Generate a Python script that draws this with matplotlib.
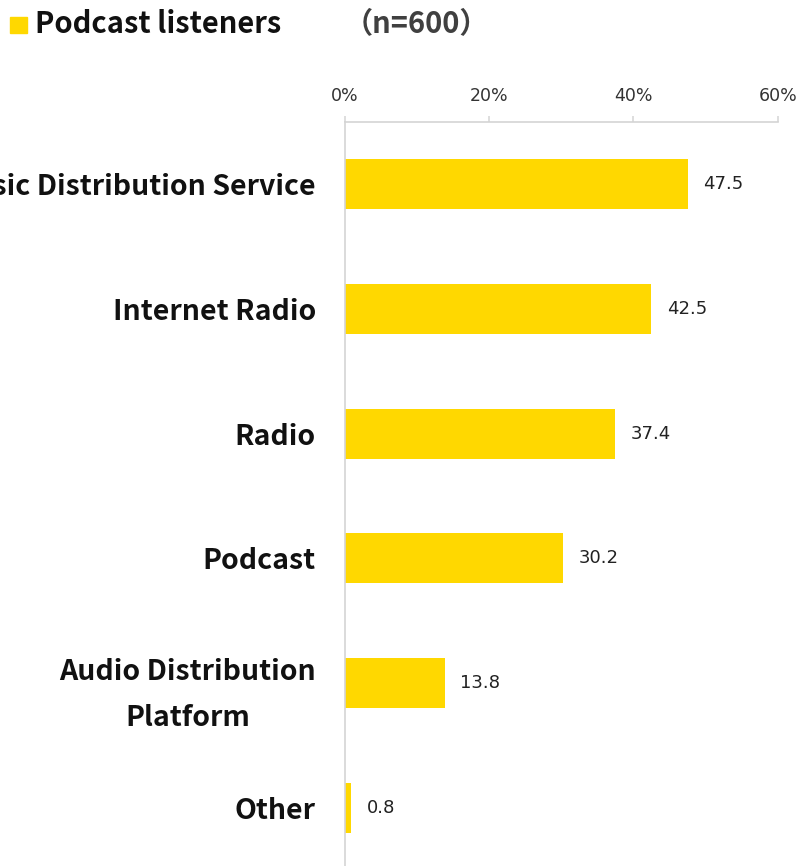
import matplotlib
matplotlib.use("Agg")
import matplotlib.pyplot as plt
from matplotlib.patches import Rectangle

# survey data (share of podcast listeners, %)
categories = ["Music Distribution Service", "Internet Radio", "Radio", "Podcast",
              "Audio Distribution\nPlatform", "Other"]
values = [47.5, 42.5, 37.4, 30.2, 13.8, 0.8]
xticks = [0, 20, 40, 60]
xtick_labels = ["0%", "20%", "40%", "60%"]
series_name = "Podcast listeners"
sample_note = "（n=600）"

bar_color = "#FFD800"
axis_gray = "#d4d4d4"

plt.rcParams['font.family'] = ['Noto Sans CJK JP', 'DejaVu Sans']

W, H = 801, 866
fig = plt.figure(figsize=(W / 100, H / 100), dpi=100)
ax = fig.add_axes([345 / W, 0, (777.7 - 345) / W, 1 - 121.7 / H])

ypos = list(range(len(categories)))
bars = ax.barh(ypos, values, height=0.4, color=bar_color)

ax.set_xlim(0, 60)
ax.set_ylim(5 + 58 / 124.5, -0.5)

# percentage axis on top
ax.xaxis.set_ticks_position("top")
ax.set_xticks(xticks)
ax.set_xticklabels(xtick_labels, fontsize=12.5, color="#333333", family="DejaVu Sans")
ax.tick_params(axis="x", direction="out", length=4, width=1.1, color=axis_gray, pad=8)

ax.set_yticks(ypos)
ax.set_yticklabels(categories, fontsize=20.5, fontweight="bold", color="#111111")
ax.tick_params(axis="y", length=0, pad=21)
for lbl in ax.get_yticklabels():
    lbl.set_multialignment("center")
    lbl.set_linespacing(1.8)

for side in ["right", "bottom"]:
    ax.spines[side].set_visible(False)
for side in ["top", "left"]:
    ax.spines[side].set_color(axis_gray)
    ax.spines[side].set_linewidth(1.2)

# value labels next to each bar
for b, v in zip(bars, values):
    ax.annotate(f"{v:.1f}", xy=(v, b.get_y() + b.get_height() / 2),
                xytext=(11.5, 0), textcoords="offset points",
                ha="left", va="center", fontsize=13, color="#222222",
                family="DejaVu Sans")

# legend swatch and title
fig.add_artist(Rectangle((10 / W, 1 - 33 / H), 17 / W, 16 / H,
                         transform=fig.transFigure, color=bar_color))
fig.text(35 / W, 1 - 33 / H, series_name, fontsize=21, fontweight="bold",
         color="#111111", ha="left", va="baseline")
fig.text(344 / W, 1 - 33 / H, sample_note, fontsize=21, fontweight="bold",
         color="#404040", ha="left", va="baseline")

fig.savefig("out.png", dpi=100)
